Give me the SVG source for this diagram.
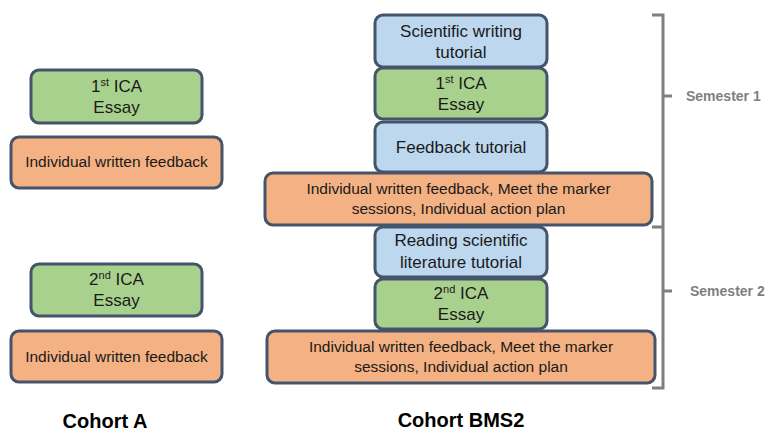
<svg xmlns="http://www.w3.org/2000/svg" width="766" height="432" viewBox="0 0 766 432">
<style>
.box{stroke:#44546a;stroke-width:3}
.g{fill:#a9d18e}.b{fill:#bdd7ee}.o{fill:#f4b183}
text{font-family:"Liberation Sans",Arial,sans-serif;fill:#1a1a1a;text-anchor:middle}
.t{font-size:17px}.s{font-size:15.5px}
.sup{font-size:11px}
.h{font-size:20px;font-weight:bold;fill:#000}
.sem{font-size:14px;font-weight:bold;fill:#7f7f7f;text-anchor:start}
.br{stroke:#7f7f7f;stroke-width:3;fill:none}
</style>
<rect width="766" height="432" fill="#fff"/>
<g id="a-ica1"><rect class="box g" x="31" y="70" width="171" height="53" rx="8"/><text class="t" x="116.5" y="92">1<tspan class="sup" dy="-6">st</tspan><tspan dy="6"> ICA</tspan></text><text class="t" x="116.5" y="113">Essay</text></g>
<g id="a-fb1"><rect class="box o" x="11" y="137" width="211" height="51" rx="8"/><text class="s" x="116.5" y="167">Individual written feedback</text></g>
<g id="a-ica2"><rect class="box g" x="31" y="264" width="171" height="52" rx="8"/><text class="t" x="116.5" y="285">2<tspan class="sup" dy="-6">nd</tspan><tspan dy="6"> ICA</tspan></text><text class="t" x="116.5" y="306">Essay</text></g>
<g id="a-fb2"><rect class="box o" x="11" y="331" width="211" height="51" rx="8"/><text class="s" x="116.5" y="362">Individual written feedback</text></g>
<text class="h" x="105" y="428">Cohort A</text>
<g id="b-sw"><rect class="box b" x="375" y="15" width="172" height="52" rx="8"/><text class="t" x="461" y="37">Scientific writing</text><text class="t" x="461" y="58">tutorial</text></g>
<g id="b-ica1"><rect class="box g" x="375" y="68" width="172" height="51" rx="8"/><text class="t" x="461" y="89">1<tspan class="sup" dy="-6">st</tspan><tspan dy="6"> ICA</tspan></text><text class="t" x="461" y="110">Essay</text></g>
<g id="b-ft"><rect class="box b" x="375" y="122" width="172" height="50" rx="8"/><text class="t" x="461" y="153">Feedback tutorial</text></g>
<g id="b-fb1"><rect class="box o" x="265" y="173" width="387" height="52" rx="8"/><text class="s" x="458.5" y="194">Individual written feedback, Meet the marker</text><text class="s" x="458.5" y="214">sessions, Individual action plan</text></g>
<g id="b-rs"><rect class="box b" x="375" y="227" width="172" height="50" rx="8"/><text class="t" x="461" y="246">Reading scientific</text><text class="t" x="461" y="268">literature tutorial</text></g>
<g id="b-ica2"><rect class="box g" x="375" y="279" width="172" height="50" rx="8"/><text class="t" x="461" y="299">2<tspan class="sup" dy="-6">nd</tspan><tspan dy="6"> ICA</tspan></text><text class="t" x="461" y="320">Essay</text></g>
<g id="b-fb2"><rect class="box o" x="267" y="331" width="388" height="52" rx="8"/><text class="s" x="461" y="352">Individual written feedback, Meet the marker</text><text class="s" x="461" y="372">sessions, Individual action plan</text></g>
<text class="h" x="461" y="427">Cohort BMS2</text>
<g id="connectors">
<path class="br" d="M652 15H663V388H652M652 227H663M663 96H672M663 291H672"/>
</g>
<text class="sem" x="686" y="101">Semester 1</text>
<text class="sem" x="690" y="296">Semester 2</text>
</svg>
